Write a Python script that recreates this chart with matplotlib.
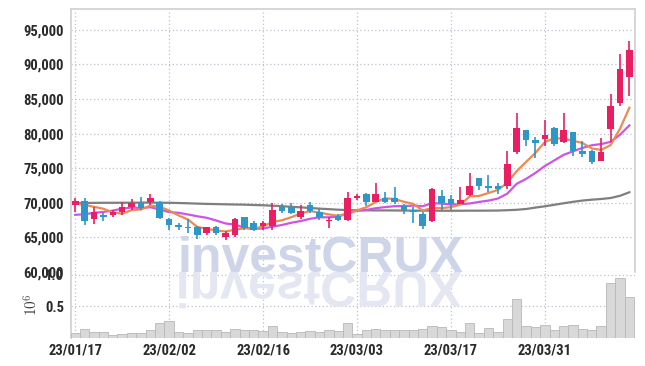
import numpy as np
import pandas as pd
import matplotlib
matplotlib.use('Agg')
import matplotlib.pyplot as plt
from matplotlib.textpath import TextPath
from matplotlib.patches import PathPatch
from matplotlib.font_manager import FontProperties
import matplotlib.transforms as mtransforms

plt.rcParams['font.family'] = ['Roboto Condensed', 'Liberation Sans', 'DejaVu Sans']
plt.rcParams['mathtext.fontset'] = 'cm'

# ---------------- data ----------------
date_ticks = [0, 10, 20, 30, 40, 50]
date_labels = ['23/01/17', '23/02/02', '23/02/16', '23/03/03', '23/03/17', '23/03/31']

opens = [69610, 70330, 67590, 68165, 68165, 68650, 69320, 70000, 70100, 70100,
         67690, 66720, 66530, 66430, 65565, 66430, 65090, 65275, 67880, 67010,
         66630, 66630, 69420, 69420, 67880, 69610, 68650, 67300, 68080, 67545,
         70620, 71300, 70145, 70720, 70620, 69565, 68990, 68310, 67350, 71010,
         70530, 69855, 71110, 73535, 72360, 72360, 72460, 77370, 80550, 79100,
         79200, 80740, 78715, 80260, 77470, 77470, 76110, 80650, 84400, 88180]
highs = [70720, 70680, 69420, 68555, 68945, 70100, 70480, 70870, 71260, 70290,
         67790, 67110, 67590, 66630, 66530, 66630, 65855, 67790, 67980, 67400,
         67300, 70000, 69810, 69900, 69610, 70100, 69130, 67980, 68370, 71590,
         71200, 71400, 72850, 71590, 72270, 69855, 69380, 68700, 72100, 71880,
         71110, 72270, 74290, 73610, 74000, 72850, 77470, 82960, 80550, 79490,
         81890, 80940, 82960, 80260, 78915, 77560, 79390, 85750, 91530, 93370]
lows = [68700, 66720, 66920, 67400, 67880, 68165, 68945, 68945, 69610, 67590,
        66055, 66140, 65665, 64800, 65375, 65375, 64610, 65090, 66140, 65950,
        66140, 66140, 68555, 68450, 67590, 68555, 67500, 66340, 67300, 67350,
        70430, 69465, 70045, 69950, 69755, 68410, 67065, 66285, 67250, 68990,
        68890, 69755, 70910, 71880, 71590, 71300, 71980, 77080, 78135, 76400,
        78235, 78135, 78620, 76690, 76600, 75640, 76015, 78815, 84015, 85360]
closes = [70330, 67440, 68740, 67880, 68650, 69420, 70000, 69230, 70680, 67790,
          66720, 66430, 66340, 65275, 66430, 65565, 65665, 67590, 66340, 66140,
          67110, 69030, 68745, 68555, 68845, 68845, 67880, 67500, 67500, 70620,
          71010, 70145, 71300, 70145, 70145, 68990, 68600, 66575, 71975, 69950,
          69755, 70430, 72460, 72360, 72070, 71980, 75640, 80840, 79000, 78620,
          79780, 78425, 80550, 77470, 76980, 75830, 77370, 84015, 89320, 92110]
# closes of the nine sessions before the window (needed for the moving averages)
prior_closes = [66600, 66700, 66600, 66700, 66600, 68400, 70100, 69300, 71300]
# long moving average line
ma_long = [69960, 69970, 69990, 70000, 70000, 70010, 70010, 70030, 70030, 70010,
           70000, 69970, 69930, 69880, 69840, 69810, 69780, 69750, 69730, 69680,
           69640, 69580, 69510, 69420, 69340, 69250, 69160, 69080, 69000, 68950,
           68920, 68910, 68900, 68900, 68890, 68880, 68870, 68860, 68860, 68850,
           68850, 68850, 68860, 68860, 68870, 68880, 68930, 68990, 69100, 69310,
           69490, 69710, 69930, 70140, 70320, 70450, 70550, 70690, 71010, 71520]
volume = [80000, 144000, 100000, 100000, 50000, 70000, 80000, 80000, 130000, 230000,
          270000, 100000, 80000, 120000, 120000, 120000, 100000, 140000, 120000, 120000,
          110000, 185000, 100000, 80000, 100000, 110000, 90000, 130000, 110000, 230000,
          70000, 130000, 140000, 120000, 130000, 120000, 120000, 140000, 195000, 180000,
          120000, 100000, 230000, 80000, 160000, 100000, 300000, 610000, 195000, 180000,
          200000, 130000, 195000, 200000, 140000, 130000, 195000, 860000, 950000, 650000]
price_ticks = [60000, 65000, 70000, 75000, 80000, 85000, 90000, 95000]
vol_ticks = [0.5, 1.0]

# ---------------- derived ----------------
o = np.array(opens, float); h = np.array(highs, float)
l = np.array(lows, float); c = np.array(closes, float)
ext = pd.Series(prior_closes + closes, dtype=float)
n0 = len(prior_closes)
ma5 = ext.rolling(5).mean().to_numpy()[n0:]
ma10 = ext.rolling(10).mean().to_numpy()[n0:]
x = np.arange(len(closes))
up = c >= o

RED = '#e91e63'
BLUE = '#2f96c8'
GRID = '#bcc0cc'
SPINE = '#d0d0d0'
TXT = '#2a2a2a'
LABEL_SIZE = 10.5

W, H = 645, 366
fig = plt.figure(figsize=(W / 100, H / 100), dpi=100)
ax = fig.add_axes([71 / W, 1 - 272 / H, 564 / W, 263 / H])
axv = fig.add_axes([71 / W, 1 - 338 / H, 564 / W, 66 / H], sharex=ax)
for a in (ax, axv):
    a.set_facecolor('none')
fig.patch.set_facecolor('white')

xlim = (-0.45, 59.6)

# ---- price panel ----
ax.set_ylim(60000, 98000)
ax.set_xlim(*xlim)
ax.set_yticks(price_ticks)
ax.set_yticklabels([f'{v:,}' for v in price_ticks])
ax.set_xticks(date_ticks)
ax.tick_params(axis='x', labelbottom=False, length=0)
ax.tick_params(axis='y', length=0, pad=5, labelsize=LABEL_SIZE, labelcolor=TXT)
ax.grid(True, color=GRID, linestyle=(0, (1, 2)), linewidth=0.9)
ax.set_axisbelow(True)
for s in ('left', 'top', 'right'):
    ax.spines[s].set_color(SPINE)
    ax.spines[s].set_linewidth(1.2)
ax.spines['bottom'].set_visible(False)

# watermark
wm = 'investCRUX'
wm_x, wm_size = 26.1, 36
ax.text(wm_x, 60000, wm, ha='center', va='baseline', fontsize=wm_size,
        fontweight='bold', family='Liberation Sans', color='#cfd5e8', zorder=0.6)

ax.plot(x, ma_long, color='#7f7f7f', lw=1.6, zorder=2)
ax.plot(x, ma10, color='#cc55e6', lw=1.6, zorder=2)
ax.plot(x, ma5, color='#ee8a50', lw=1.6, zorder=2)

cols = np.where(up, RED, BLUE)
ax.vlines(x, l, h, colors=cols, lw=1.2, zorder=3)
body_bot = np.minimum(o, c)
body_h = np.maximum(np.abs(c - o), 60)
ax.bar(x, body_h, bottom=body_bot, width=0.7, color=cols, linewidth=0, zorder=4)

for lab in ax.get_yticklabels():
    lab.set_fontweight('bold')

# ---- volume panel ----
axv.set_ylim(0, 1.04)
axv.set_xlim(*xlim)
axv.bar(x, np.array(volume) / 1e6, width=1.0, color='#d8d8d8',
        edgecolor='#b8b8b8', linewidth=0.6, zorder=3)
axv.set_yticks(vol_ticks)
axv.set_yticklabels(['0.5', '1.0'])
axv.set_xticks(date_ticks)
axv.set_xticklabels(date_labels)
axv.tick_params(length=0, labelsize=LABEL_SIZE, labelcolor=TXT)
axv.tick_params(axis='y', pad=5)
axv.tick_params(axis='x', pad=4)
axv.grid(True, color=GRID, linestyle=(0, (1, 2)), linewidth=0.9)
axv.set_axisbelow(True)
for s in ('top', 'right', 'bottom'):
    axv.spines[s].set_visible(False)
axv.spines['left'].set_color(SPINE)
axv.spines['left'].set_linewidth(1.2)
axv.set_ylabel(r'$10^6$', fontsize=11, color='#444444', labelpad=3)
for lab in axv.get_yticklabels() + axv.get_xticklabels():
    lab.set_fontweight('bold')

# reflection of the watermark (decorative mirrored glyph outlines)
fp = FontProperties(family='Liberation Sans', weight='bold')
tp = TextPath((0, 0), wm, size=wm_size * 100 / 72, prop=fp)
ext_bb = tp.get_extents()
cx, by = ax.transData.transform((wm_x, 60000))
tr = mtransforms.Affine2D().translate(-(ext_bb.x0 + ext_bb.x1) / 2, 0).scale(1, -1).translate(cx, by)
refl = PathPatch(tp, transform=tr, facecolor='#e4e7f1', edgecolor='none', zorder=0.6)
axv.add_artist(refl)

fig.savefig('out.png', dpi=100)
